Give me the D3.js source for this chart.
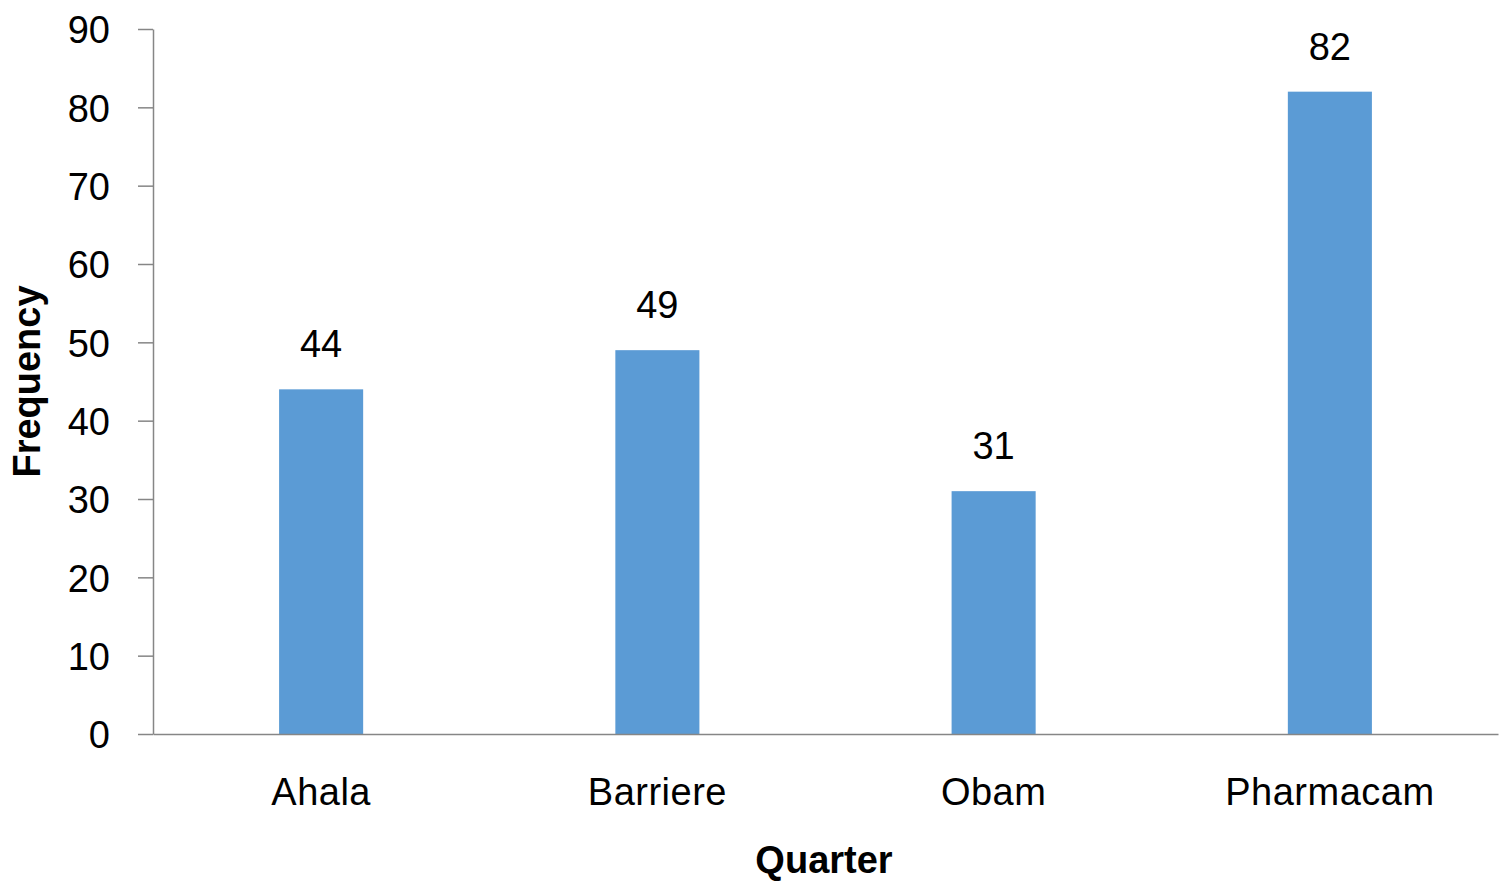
<!DOCTYPE html>
<html><head><meta charset="utf-8">
<script src="https://cdn.jsdelivr.net/npm/d3@7"></script>
<style>body{margin:0;background:#fff}</style>
</head><body>
<svg id="c" width="1500" height="890"></svg>
<script>
const categories = ["Ahala", "Barriere", "Obam", "Pharmacam"];
const frequency = [44, 49, 31, 82];
const yTicks = [0, 10, 20, 30, 40, 50, 60, 70, 80, 90];
const xTitle = "Quarter";
const yTitle = "Frequency";

(function () {
const svg = d3.select("#c");
const mLeft = 153, mRight = 1498, mTop = 29, mBottom = 734;
const font = "'Liberation Sans', Arial, sans-serif";
const axisColor = "#868686";

const x = d3.scaleBand().domain(categories).range([mLeft, mRight]).paddingInner(0.75).paddingOuter(0.375);
const y = d3.scaleLinear().domain([0, 90]).range([mBottom, mTop]);

// bars
svg.selectAll("rect.bar").data(categories).enter().append("rect")
  .attr("x", d => x(d)).attr("width", x.bandwidth())
  .attr("y", (d, i) => y(frequency[i]))
  .attr("height", (d, i) => y(0) - y(frequency[i]))
  .attr("fill", "#5B9BD5");

// y axis
const ya = svg.append("g").attr("transform", `translate(${mLeft},0)`)
  .call(d3.axisLeft(y).tickValues(yTicks).tickSize(15).tickPadding(28).tickSizeOuter(0));
ya.select(".domain").attr("stroke", axisColor).attr("stroke-width", 1.5);
ya.selectAll(".tick line").attr("stroke", axisColor).attr("stroke-width", 1.5);
ya.selectAll(".tick text").attr("font-family", font).attr("font-size", 38).attr("fill", "#000")
  .attr("dy", "0.36em");

// x axis
const xa = svg.append("g").attr("transform", `translate(0,${mBottom})`)
  .call(d3.axisBottom(x).tickSize(0).tickPadding(0).tickSizeOuter(0));
xa.select(".domain").attr("stroke", axisColor).attr("stroke-width", 1.5);
xa.selectAll(".tick text").attr("font-family", font).attr("font-size", 38).attr("fill", "#000")
  .attr("letter-spacing", "0.5px").attr("y", 71).attr("dy", 0);

// value labels
svg.selectAll("text.val").data(categories).enter().append("text")
  .attr("x", d => x(d) + x.bandwidth() / 2)
  .attr("y", (d, i) => y(frequency[i]) - 32)
  .attr("text-anchor", "middle").attr("font-family", font).attr("font-size", 38).attr("fill", "#000")
  .text((d, i) => frequency[i]);

// titles
svg.append("text").attr("x", 824).attr("y", 873)
  .attr("text-anchor", "middle").attr("font-family", font).attr("font-size", 38)
  .attr("font-weight", "bold").text(xTitle);
svg.append("text").attr("transform", `translate(40,${(mTop + mBottom) / 2}) rotate(-90)`)
  .attr("text-anchor", "middle").attr("font-family", font).attr("font-size", 38)
  .attr("font-weight", "bold").text(yTitle);
})();
</script>
</body></html>
